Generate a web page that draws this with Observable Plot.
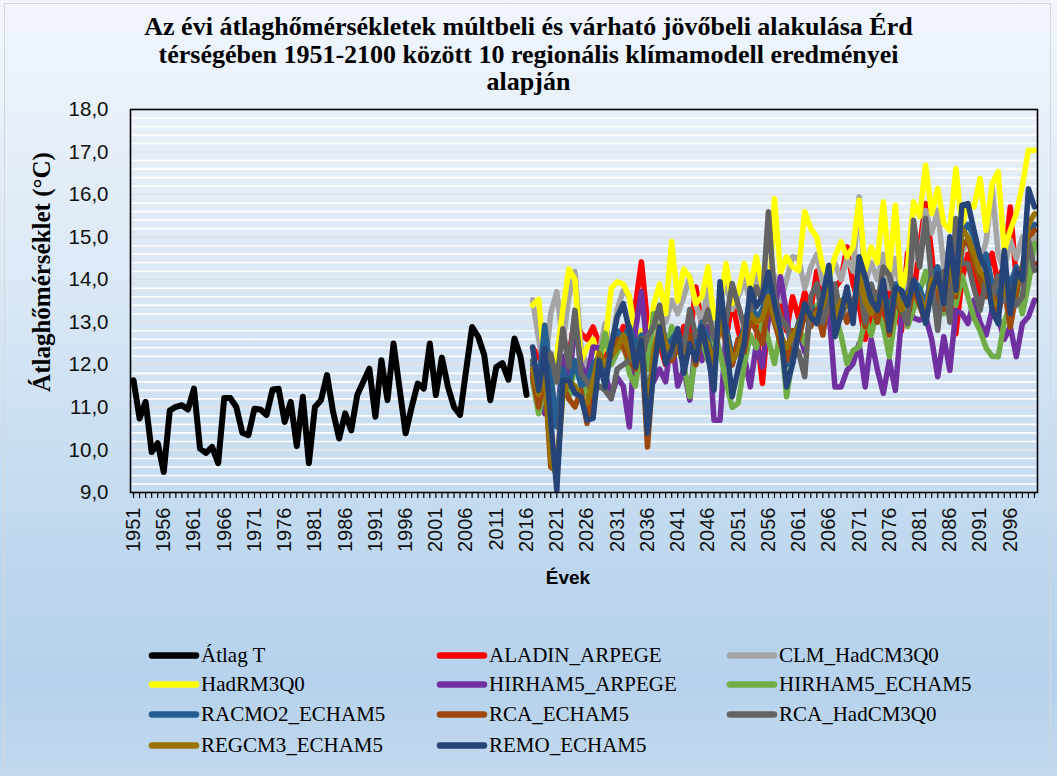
<!DOCTYPE html>
<html>
<head>
<meta charset="utf-8">
<script src="https://cdn.jsdelivr.net/npm/d3@7"></script>
<script src="https://cdn.jsdelivr.net/npm/@observablehq/plot@0.6"></script>
<style>
  body { margin: 0; background: #ffffff; }
  #wrap {
    position: relative; width: 1057px; height: 776px; overflow: hidden;
    background: linear-gradient(to bottom, #F1F6FC 0%, #DCE9F6 35%, #BCD6EE 75%, #B6D2EC 88%, #C2D9EF 100%);
  }
  #frameBox { position: absolute; left: 4px; top: 3px; width: 1047px; height: 768px; border: 1px solid #D4D8DC; box-sizing: border-box; }
  #title {
    position: absolute; top: 13px; left: 0; width: 1057px; text-align: center;
    font-family: "Liberation Serif", "Times New Roman", serif; font-weight: bold; font-size: 26px; line-height: 27.5px; color: #000;
  }
  #ylab {
    position: absolute; left: 42px; top: 272px; transform: translate(-50%, -50%) rotate(-90deg);
    white-space: nowrap; font-family: "Liberation Serif", serif; font-weight: bold; font-size: 25px; color: #000;
  }
  #xlab {
    position: absolute; left: 568px; top: 578px; transform: translate(-50%, -50%);
    font-family: "Liberation Sans", sans-serif; font-weight: bold; font-size: 19px; color: #000;
  }
  #chart { position: absolute; left: 0; top: 0; }
  .leg { position: absolute; display: flex; align-items: center; transform: translateY(-50%);
    font-family: "Liberation Serif", serif; font-size: 21px; color: #000; white-space: nowrap; }
  .leg svg { margin-right: 1px; }
</style>
</head>
<body>
<div id="wrap">
  <div id="frameBox"></div>
  <div id="title">Az évi átlaghőmérsékletek múltbeli és várható jövőbeli alakulása Érd<br>térségében 1951-2100 között 10 regionális klímamodell eredményei<br>alapján</div>
  <div id="chart"></div>
  <div id="ylab">Átlaghőmérséklet (°C)</div>
  <div id="xlab">Évek</div>
</div>
<script>
// ---- data ----
const obsStart = 1951;
const obsT = [
  11.64,10.74,11.13,9.95,10.16,9.48,10.93,11.01,11.05,10.95,
  11.44,10.03,9.93,10.07,9.69,11.22,11.22,11.01,10.40,10.35,
  10.97,10.95,10.82,11.42,11.44,10.66,11.13,10.09,11.25,9.69,
  11.01,11.17,11.76,10.90,10.27,10.86,10.46,11.29,11.60,11.91,
  10.78,12.11,11.17,12.50,11.44,10.39,11.01,11.56,11.44,12.50,
  11.29,12.17,11.48,11.01,10.82,11.87,12.89,12.66,12.23,11.17,
  11.95,12.04,11.65,12.62,12.19,11.29
];
const modelStart = 2017;
const aladin = [
  12.4,12.2,11.9,11.0,
  10.9,11.6,12.2,13.13,12.74,12.6,12.89,12.5,12.2,12.3,
  12.5,12.9,12.6,13.4,14.42,12.97,12.2,12.5,12.0,12.6,
  12.3,12.9,12.6,13.83,12.9,13.4,12.5,13.0,12.6,13.5,
  12.8,12.3,13.4,12.9,11.56,13.2,13.8,13.4,12.8,13.6,
  13.1,13.7,13.3,14.2,13.5,13.0,13.8,14.0,14.77,13.9,
  13.4,12.6,13.2,13.7,13.0,13.9,13.5,12.8,14.62,13.6,
  14.8,15.79,14.6,13.2,14.2,13.6,12.73,14.0,14.6,14.2,
  13.6,14.1,14.62,13.9,14.4,15.71,13.99,14.2,14.07,14.38
];
const clm = [
  13.53,12.6,11.8,13.21,
  13.72,12.5,13.6,14.19,12.4,12.0,11.7,12.3,12.97,12.4,
  13.3,13.75,13.6,12.8,12.6,12.2,12.9,13.3,13.0,13.52,
  13.2,13.6,14.07,13.4,13.0,13.8,12.9,13.5,13.9,13.3,
  13.6,14.0,13.5,14.2,13.7,13.9,14.1,13.5,14.0,14.54,
  14.5,13.8,14.3,14.6,13.9,14.1,14.38,14.0,14.5,14.2,
  15.95,13.9,14.4,14.0,14.6,13.8,14.5,13.5,14.2,14.6,
  14.4,15.63,15.1,15.63,14.3,14.8,15.0,14.6,15.0,14.7,
  14.4,14.9,16.18,14.6,14.2,14.93,14.5,15.0,14.3,15.01
];
const hadrm = [
  13.40,13.54,12.0,11.3,
  12.2,13.3,14.25,14.0,12.1,12.4,12.6,12.1,12.5,13.8,
  13.95,13.9,13.6,12.6,12.8,12.3,13.4,13.9,13.2,14.9,
  13.5,14.25,14.05,13.44,13.6,14.3,13.1,13.4,14.38,13.44,
  13.7,14.38,13.83,14.54,13.83,13.2,15.9,14.15,14.54,14.3,
  14.22,15.6,15.2,15.0,14.3,14.0,14.54,14.89,14.54,14.77,
  15.87,14.22,14.77,14.4,15.83,14.22,15.75,13.75,14.3,15.83,
  15.48,16.69,15.55,16.14,15.32,15.16,16.61,15.24,15.79,15.71,
  16.38,15.16,16.26,16.54,14.69,15.16,15.55,16.22,17.04,17.04
];
const hirArpege = [
  11.8,11.5,10.85,11.6,
  10.6,12.2,11.4,13.05,12.0,11.7,12.42,12.4,11.8,11.25,
  11.7,11.5,10.54,12.8,13.72,12.3,11.6,11.9,11.6,12.7,
  11.5,11.9,11.17,12.6,12.1,12.9,10.7,10.7,12.8,12.0,
  12.6,12.2,11.48,12.5,11.95,13.1,13.3,14.07,13.2,12.03,
  12.8,12.3,13.2,13.13,12.8,13.3,11.48,11.48,11.87,12.03,
  12.5,11.48,12.6,11.9,11.33,12.1,11.4,13.1,13.4,13.1,
  13.05,13.13,12.6,11.72,12.66,11.87,13.28,13.2,12.97,13.52,
  13.0,12.7,13.3,13.1,12.6,12.9,12.19,12.97,13.13,13.52
];
const hirEcham = [
  11.6,10.85,11.4,11.2,
  10.8,11.7,11.2,12.0,11.6,11.3,11.9,12.1,12.74,12.0,
  12.3,12.6,11.8,11.5,12.5,11.9,13.2,12.7,12.2,12.9,
  12.4,12.0,11.25,12.3,12.6,12.1,12.8,12.3,11.6,11.0,
  11.1,12.0,12.7,12.4,13.0,12.6,12.03,12.8,11.25,12.2,
  12.9,12.5,13.0,13.4,12.8,13.6,13.2,12.7,12.03,12.34,
  12.42,13.1,12.7,13.3,12.9,12.19,13.2,13.6,12.9,13.3,
  13.7,14.2,13.5,13.8,13.2,13.9,13.4,14.1,13.6,13.1,
  12.8,12.4,12.2,12.19,13.0,13.4,13.9,13.2,13.9,14.85
];
const racmo = [
  12.0,11.5,12.93,11.8,
  10.54,11.9,11.5,12.1,11.5,11.6,12.0,12.2,11.9,12.5,
  12.8,12.6,12.9,12.4,12.7,11.0,12.2,12.8,12.4,12.6,
  12.8,12.3,12.7,12.5,13.0,12.6,12.0,13.4,12.9,12.2,
  12.4,12.9,13.5,13.1,13.3,13.8,13.2,12.6,12.0,12.5,
  13.0,13.3,13.4,13.1,13.7,13.9,13.2,13.5,13.6,13.3,
  14.0,13.7,13.4,13.6,13.8,13.2,13.9,13.5,13.7,14.0,
  13.8,13.4,14.1,14.3,13.7,14.6,14.0,15.1,15.3,15.01,
  14.4,14.6,13.9,13.6,14.2,13.9,14.3,14.1,15.0,15.3
];
const rcaEcham = [
  11.72,11.01,11.8,9.6,
  9.5,11.5,11.2,11.01,11.4,10.62,11.5,11.9,12.1,12.3,
  12.6,12.4,12.1,11.9,12.5,10.07,12.0,12.6,12.2,12.1,
  12.4,12.2,12.7,12.0,12.8,12.4,12.1,13.0,12.5,12.0,
  12.6,12.3,13.1,12.8,12.5,13.5,13.0,12.5,12.1,12.8,
  12.6,13.2,12.9,13.3,12.7,13.8,12.9,13.4,13.0,13.5,
  13.8,12.9,13.5,13.0,13.6,12.7,13.6,13.2,13.1,13.8,
  13.4,13.0,13.9,13.6,13.3,14.4,13.6,14.8,14.93,14.4,
  14.0,13.6,13.8,13.2,13.8,12.89,13.7,14.3,15.0,15.16
];
const rcaHad = [
  12.1,11.4,12.0,12.27,
  11.6,12.85,11.95,13.28,11.8,11.6,11.3,11.5,11.4,11.2,
  11.9,12.0,12.1,12.3,12.2,12.66,12.9,13.4,12.5,12.2,
  12.6,12.4,13.3,12.66,12.8,13.28,12.6,12.9,13.0,13.91,
  13.4,12.9,13.2,13.83,13.5,15.6,13.6,13.13,12.9,12.5,
  12.3,11.72,13.6,13.91,13.0,13.6,13.9,13.1,13.5,13.2,
  14.3,13.0,13.9,13.4,14.3,14.1,13.6,13.3,12.97,15.4,
  14.3,15.44,14.0,12.81,14.2,13.0,15.44,14.38,14.38,13.8,
  13.28,14.0,13.6,14.1,13.5,13.8,13.4,13.6,14.93,14.22
];
const regcm = [
  11.9,11.3,11.9,9.76,
  9.4,11.3,11.6,11.5,11.2,11.1,11.6,12.27,12.0,12.2,
  12.4,12.7,12.3,12.0,12.6,10.8,12.3,12.9,12.5,12.3,
  12.6,12.1,12.5,12.2,12.7,12.5,11.9,13.1,12.7,12.1,
  12.3,12.8,13.2,13.0,13.1,13.6,13.1,12.7,12.4,12.7,
  12.9,13.4,13.1,13.2,13.4,14.0,13.1,13.5,13.4,13.3,
  14.1,13.5,13.2,13.5,13.7,13.0,13.8,13.3,13.6,13.9,
  13.6,13.2,14.0,14.0,13.5,14.6,13.7,15.2,15.0,14.6,
  14.2,14.0,13.5,13.4,13.9,13.4,13.9,14.2,15.3,15.55
];
const remo = [
  12.42,11.4,12.38,10.7,
  9.05,11.64,11.64,11.33,11.25,10.7,10.74,12.11,11.48,12.42,
  13.13,13.44,12.81,11.95,12.58,10.39,11.8,12.89,12.03,12.34,
  12.85,11.8,12.5,12.1,12.9,12.2,11.4,13.95,12.6,11.25,
  11.9,12.5,13.8,13.36,13.6,14.18,13.44,12.81,11.48,12.03,
  12.8,13.44,13.13,12.97,13.6,14.34,12.66,13.2,13.83,12.97,
  14.54,14.07,13.52,13.28,13.99,12.81,13.83,13.75,13.4,13.99,
  13.52,12.97,13.75,14.15,13.44,15.01,13.75,15.75,15.79,15.16,
  14.54,14.22,13.28,12.97,14.69,13.2,14.22,13.99,16.14,15.71
];

const seriesNames = ["Átlag T","ALADIN_ARPEGE","CLM_HadCM3Q0","HadRM3Q0","HIRHAM5_ARPEGE","HIRHAM5_ECHAM5","RACMO2_ECHAM5","RCA_ECHAM5","RCA_HadCM3Q0","REGCM3_ECHAM5","REMO_ECHAM5"];
const seriesColors = ["#000000","#FF0000","#A5A5A5","#FFFF00","#7030A0","#70AD47","#255E91","#9E480E","#636363","#997300","#264478"];
const seriesValues = [obsT, aladin, clm, hadrm, hirArpege, hirEcham, racmo, rcaEcham, rcaHad, regcm, remo];
const seriesStarts = [obsStart, modelStart, modelStart, modelStart, modelStart, modelStart, modelStart, modelStart, modelStart, modelStart, modelStart];

const firstYear = 1951, lastYear = 2100;
const yTicks = [9,10,11,12,13,14,15,16,17,18];

// ---- build ----
const allYears = d3.range(firstYear, lastYear + 1);
const labelYears = allYears.filter(y => (y - firstYear) % 5 === 0);
const gridLines = d3.range(9.2, 17.9, 0.2).map(v => Math.round(v * 10) / 10);

const lineMarks = seriesValues.map((vals, i) =>
  Plot.line(vals.map((v, k) => ({year: seriesStarts[i] + k, value: v})), {
    x: "year", y: "value", stroke: seriesColors[i],
    strokeWidth: i === 0 ? 6 : 5.5, strokeLinejoin: "round", strokeLinecap: "round"
  })
);

const chart = Plot.plot({
  width: 1057, height: 600,
  marginLeft: 130, marginRight: 20, marginTop: 109, marginBottom: 108,
  style: {background: "transparent", fontFamily: "Liberation Sans, sans-serif", color: "#111", overflow: "visible"},
  x: {domain: [firstYear - 0.5, lastYear + 0.5]},
  y: {domain: [9, 18]},
  marks: [
    Plot.ruleY(gridLines, {stroke: "#ffffff", strokeWidth: 1.6}),
    Plot.ruleY(yTicks.slice(1, -1), {stroke: "#DCE0E4", strokeWidth: 1.6}),
    Plot.axisY({ticks: yTicks, tickSize: 0, tickPadding: 22, fontSize: 20.5, label: null,
      tickFormat: d => d.toFixed(1).replace(".", ",")}),
    Plot.axisX({ticks: allYears, tickSize: 6, tickFormat: () => "", label: null, stroke: "#000", strokeWidth: 1.2}),
    Plot.axisX({ticks: labelYears, tickSize: 0, tickPadding: 15, tickRotate: -90, fontSize: 20, label: null,
      tickFormat: d => String(d)}),
    ...lineMarks,
    Plot.frame({stroke: "#000", strokeWidth: 1.6})
  ]
});
document.getElementById("chart").appendChild(chart);

// ---- legend ----
const legCols = [148, 436, 726];
const legRows = [655, 684, 714, 745];
const wrap = document.getElementById("wrap");
seriesNames.forEach((name, i) => {
  const d = document.createElement("div");
  d.className = "leg";
  d.style.left = legCols[i % 3] + "px";
  d.style.top = legRows[Math.floor(i / 3)] + "px";
  d.innerHTML = `<svg width="52" height="10"><line x1="4" y1="5" x2="48" y2="5" stroke="${seriesColors[i]}" stroke-width="6.5" stroke-linecap="round"/></svg><span>${name}</span>`;
  wrap.appendChild(d);
});
</script>
</body>
</html>
